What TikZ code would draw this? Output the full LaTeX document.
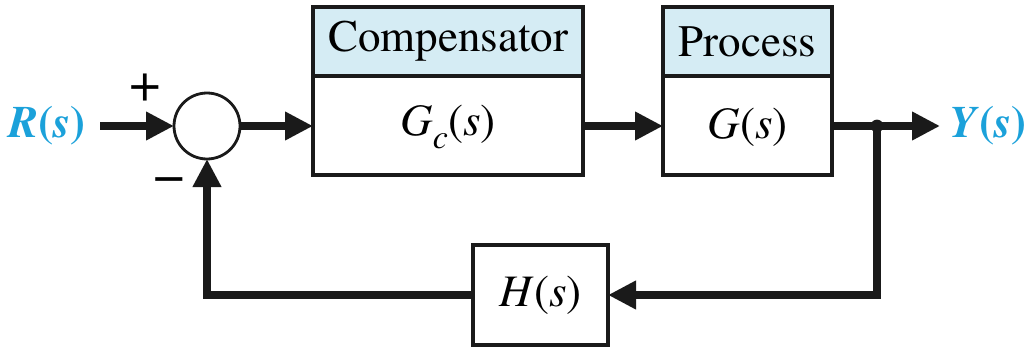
\documentclass[tikz,border=0pt]{standalone}
\usepackage{fontspec}
\setmainfont{texgyretermes}[Extension=.otf,UprightFont=*-regular,BoldFont=*-bold,ItalicFont=*-italic,BoldItalicFont=*-bolditalic]
\usetikzlibrary{arrows.meta}
\definecolor{sigblue}{RGB}{27,161,218}
\definecolor{hdrfill}{RGB}{213,236,244}
\definecolor{ink}{RGB}{26,26,26}
\begin{document}
\begin{tikzpicture}[x=0.5pt,y=-0.5pt,
  font=\fontsize{22.5}{27}\selectfont,
  blk/.style={draw=ink,line width=1.7pt,fill=white,inner sep=0pt,outer sep=0pt},
  hdr/.style={blk,fill=hdrfill},
  sumnode/.style={circle,draw=ink,line width=1.4pt,fill=white,minimum size=33pt,inner sep=0pt,outer sep=0pt},
  conn/.style={draw=ink,line width=4pt,-{Triangle[length=14pt,width=13.5pt]}},
  wire/.style={draw=ink,line width=4pt},
  sign/.style={font=\fontsize{28}{32}\selectfont},
  sig/.style={text=sigblue,font=\fontsize{22.5}{27}\selectfont\bfseries\itshape}]
\useasboundingbox (0,0) rectangle (1028,348);

% summing junction
\node[sumnode] (sum) at (207,126) {};
\node[sign] (plus) at (145,88) {+};
\node[sign] (minus) at (169,186) {−};

% input and output signals
\node[sig] (R) at (47,126) {R\textup{(}s\textup{)}};
\coordinate (rin) at (100,126);
\node[sig] (Y) at (988,126) {Y\textup{(}s\textup{)}};
\coordinate (yout) at (940,126);

% compensator block
\node[blk,minimum width=135pt,minimum height=84pt] (comp) at (448,91) {};
\node[hdr,minimum width=135pt,minimum height=34.5pt,anchor=north] (comphdr) at (comp.north) {Compensator};
\node (gc) at (448,127) {\textit{G}\raisebox{-0.28em}{\fontsize{17}{17}\selectfont\textit{c}}(\textit{s})};

% process block
\node[blk,minimum width=84.5pt,minimum height=84pt] (proc) at (747.5,91) {};
\node[hdr,minimum width=84.5pt,minimum height=34.5pt,anchor=north] (prochdr) at (proc.north) {Process};
\node (g) at (747.5,127) {\textit{G}(\textit{s})};

% feedback block
\node[blk,minimum width=67.5pt,minimum height=50pt] (H) at (540.5,295) {\textit{H}(\textit{s})};

% take-off point
\fill[ink] (877,126) circle (3.2pt) coordinate (dot);

% forward path
\draw[conn] (rin) -- (sum.west);
\draw[conn] (sum.east) -- (sum.east -| comp.west);
\draw[conn] (comp.east |- sum.east) -- (proc.west |- sum.east);
\draw[wire] (proc.east |- sum.east) -- (dot);
\draw[conn] (dot) -- (yout);

% feedback path
\draw[conn] (dot) |- (H.east);
\draw[conn] (H.west) -| (sum.south);
\end{tikzpicture}
\end{document}
